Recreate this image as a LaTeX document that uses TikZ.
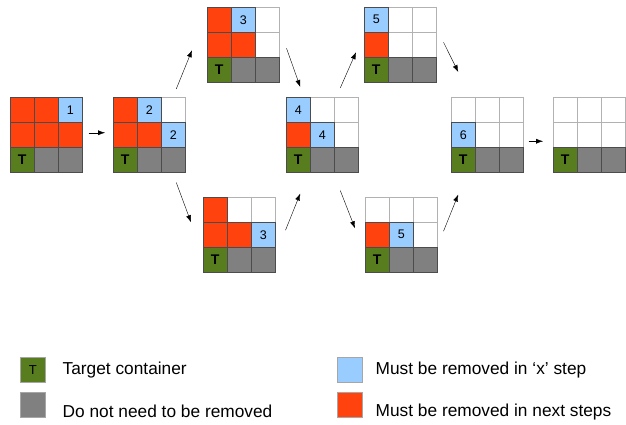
\documentclass[tikz,border=0pt]{standalone}
\usepackage{fontspec}
\setmainfont{Liberation Sans}
\usepackage{tikz}
\usetikzlibrary{positioning,arrows.meta}
\definecolor{boxred}{RGB}{255, 66, 14}
\definecolor{boxblue}{RGB}{153, 204, 255}
\definecolor{boxgreen}{RGB}{88, 125, 30}
\definecolor{boxgray}{RGB}{128, 128, 128}

\tikzset{
  cell/.style={draw=black!70, line width=0.5pt, minimum width=24pt, minimum height=25pt,
    inner sep=0pt, anchor=north west, font=\fontsize{12.5}{12.5}\selectfont},
  rd/.style={fill=boxred},
  bl/.style={fill=boxblue},
  wh/.style={draw=none},
  tg/.style={fill=boxgreen},
  gr/.style={fill=boxgray},
  gridline/.style={draw=black!30, line width=0.5pt},
  key/.style={draw=black!35, line width=0.5pt, minimum width=25pt, minimum height=25pt,
    inner sep=0pt, anchor=north west, font=\fontsize{13}{13}\selectfont},
  legtext/.style={inner sep=0pt, font=\fontsize{17.3}{19}\selectfont},
}

\begin{document}
\begin{tikzpicture}[x=1pt, y=-1pt, >={Latex[length=7pt,width=5pt]}]
\useasboundingbox (0,0) rectangle (626,425);

% Stacks: name / left / top / upper two rows
\foreach \g/\gx/\gy/\cells in {
  s1/10/97/{rd/{},rd/{},bl/1,rd/{},rd/{},rd/{}},
  s2/113/97/{rd/{},bl/2,wh/{},rd/{},rd/{},bl/2},
  s3a/207/7/{rd/{},bl/3,wh/{},rd/{},rd/{},wh/{}},
  s3b/203/197/{rd/{},wh/{},wh/{},rd/{},rd/{},bl/3},
  s4/286/97/{bl/4,wh/{},wh/{},rd/{},bl/4,wh/{}},
  s5a/364/7/{bl/5,wh/{},wh/{},rd/{},wh/{},wh/{}},
  s5b/365/197/{wh/{},wh/{},wh/{},rd/{},bl/5,wh/{}},
  s6/451/97/{wh/{},wh/{},wh/{},bl/6,wh/{},wh/{}},
  s7/553/97/{wh/{},wh/{},wh/{},wh/{},wh/{},wh/{}}} {
  \begin{scope}[shift={(\gx,\gy)}]
    \foreach \k in {0,...,3} {
      \draw[gridline] (24*\k,0) -- (24*\k,75);
      \draw[gridline] (0,25*\k) -- (72,25*\k);
    }
    \foreach \kind/\lab [count=\i from 0] in \cells {
      \node[cell,\kind] (\g-\i) at ({24*mod(\i,3)},{25*int(\i/3)}) {\lab};
    }
    % bottom row: target and the ones below it
    \node[cell,tg,font=\fontsize{14}{14}\selectfont\bfseries] (\g-6) at (0,50) {T};
    \node[cell,gr] (\g-7) at (24,50) {};
    \node[cell,gr] (\g-8) at (48,50) {};
  \end{scope}
}

% Steps
\draw[->] ([shift={(6,-2)}]s1-5.east) -- ([shift={(-8,-2)}]s2-3.west);
\draw[->] ([shift={(3,-8)}]s2-2.north) -- ([shift={(-15,5.5)}]s3a-3.west);
\draw[->] ([shift={(3,10)}]s2-8.south) -- ([shift={(-12,-12.5)}]s3b-3.west);
\draw[->] ([shift={(7,3.5)}]s3a-5.east) -- ([shift={(2,-10)}]s4-0.north);
\draw[->] ([shift={(10,-4.5)}]s3b-5.east) -- ([shift={(2,21)}]s4-6.south);
\draw[->] ([shift={(-6,-9)}]s4-2.north) -- ([shift={(-8,7.5)}]s5a-3.west);
\draw[->] ([shift={(-6,18)}]s4-8.south) -- ([shift={(-10,-6.5)}]s5b-3.west);
\draw[->] ([shift={(7,-2.5)}]s5a-5.east) -- ([shift={(-5,-25)}]s6-0.north);
\draw[->] ([shift={(6,-3.5)}]s5b-5.east) -- ([shift={(-5,22)}]s6-6.south);
\draw[->] ([shift={(5,6.5)}]s6-5.east) -- ([shift={(-10,6.5)}]s7-3.west);

% Legend
\node[key,tg] (kT) at (20,357) {T};
\node[key,gr] (kG) at (20,392) {};
\node[key,bl] (kB) at (337,357) {};
\node[key,rd] (kR) at (337,392) {};
\node[legtext, right=17pt of kT] (tT) {Target container};
\node[legtext, right=17pt of kG, yshift=-7pt] (tG) {Do not need to be removed};
\node[legtext, right=13pt of kB] (tB) {Must be removed in ‘x’ step};
\node[legtext, right=13pt of kR, yshift=-7pt] (tR) {Must be removed in next steps};
\end{tikzpicture}
\end{document}
